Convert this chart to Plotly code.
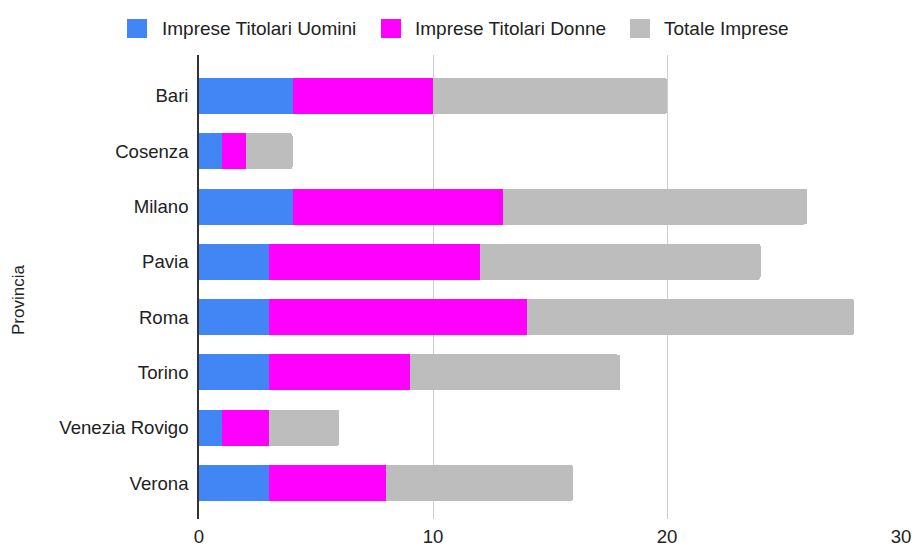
import plotly.graph_objects as go

provinces = ["Bari", "Cosenza", "Milano", "Pavia", "Roma", "Torino", "Venezia Rovigo", "Verona"]
uomini = [4, 1, 4, 3, 3, 3, 1, 3]
donne = [6, 1, 9, 9, 11, 6, 2, 5]
totale = [10, 2, 13, 12, 14, 9, 3, 8]
x_ticks = [0, 10, 20, 30]

series = [
    ("Imprese Titolari Uomini", uomini, "#4285F4"),
    ("Imprese Titolari Donne", donne, "#FF00FF"),
    ("Totale Imprese", totale, "#BDBDBD"),
]

W, H = 915, 546
M_L, M_R, M_T, M_B = 199, 14, 55, 27
PW, PH = W - M_L - M_R, H - M_T - M_B
FONT = "Liberation Sans, Arial, sans-serif"
TXT = "#222222"


def px_x(x):
    return (x - M_L) / PW


def px_y(y):
    return (H - M_B - y) / PH


fig = go.Figure()
for name, vals, color in series:
    fig.add_trace(go.Bar(
        y=provinces, x=vals, name=name, orientation="h",
        marker=dict(color=color, line=dict(width=0)),
        showlegend=False,
    ))

# Legend drawn as swatches + labels across the top
legend_items = [(127, 160), (381, 413), (630, 662)]
shapes, annotations = [], []
for (sx, tx), (name, _, color) in zip(legend_items, series):
    shapes.append(dict(
        type="rect", xref="paper", yref="paper",
        x0=px_x(sx), x1=px_x(sx + 20), y0=px_y(38), y1=px_y(19),
        fillcolor=color, line=dict(width=0), layer="above",
    ))
    annotations.append(dict(
        text=name, xref="paper", yref="paper", x=px_x(tx), y=px_y(29),
        xanchor="left", yanchor="middle", showarrow=False,
        font=dict(family=FONT, size=19, color=TXT),
    ))

annotations.append(dict(
    text="Provincia", xref="paper", yref="paper", x=px_x(18), y=px_y(300),
    xanchor="center", yanchor="middle", textangle=-90, showarrow=False,
    font=dict(family=FONT, size=17, color=TXT),
))

fig.update_layout(
    width=W, height=H,
    barmode="stack", bargap=0.35, barcornerradius=3,
    plot_bgcolor="white", paper_bgcolor="white",
    margin=dict(l=M_L, r=M_R, t=M_T, b=M_B, pad=0, autoexpand=False),
    font=dict(family=FONT, size=18.6, color=TXT),
    showlegend=False,
    shapes=shapes, annotations=annotations,
    xaxis=dict(
        range=[0, 30], tickvals=x_ticks, showgrid=True, gridcolor="#CCCCCC",
        gridwidth=1, zeroline=False, showline=False, ticks="",
        ticklabelstandoff=4, tickfont=dict(size=18.6), automargin=False,
    ),
    yaxis=dict(
        categoryorder="array", categoryarray=provinces,
        range=[7.65, -0.74], showgrid=False, ticks="",
        showline=True, linecolor="#333333", linewidth=1.5,
        ticklabelstandoff=5, tickfont=dict(size=18.6), automargin=False,
    ),
)

fig.write_html("out.html")
